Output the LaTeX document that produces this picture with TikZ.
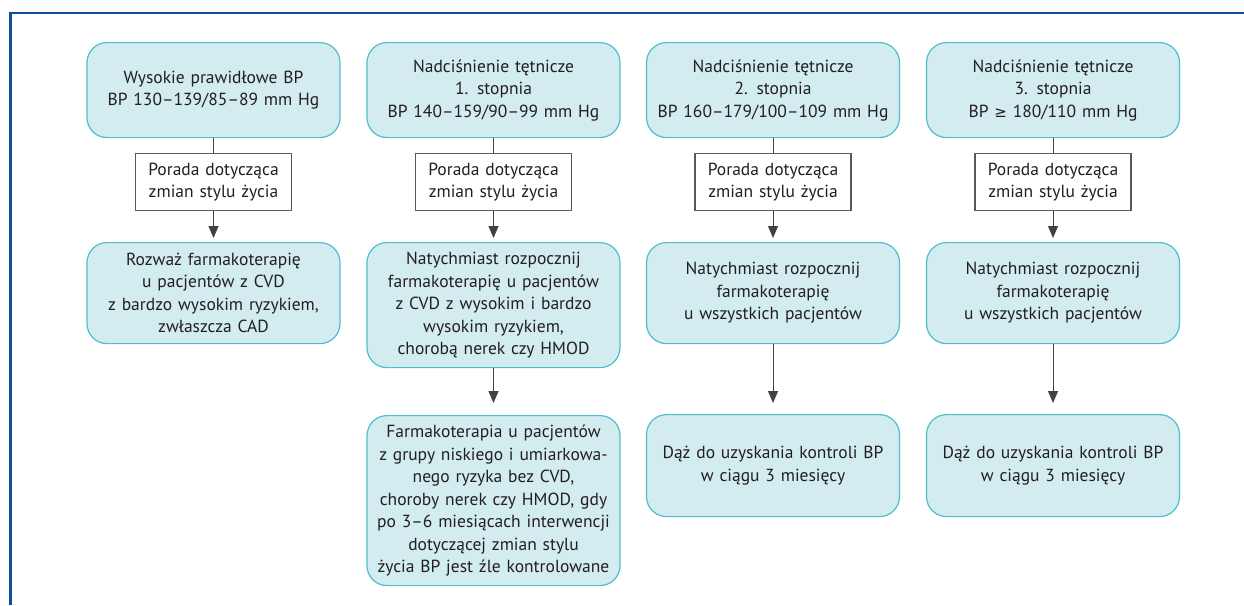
\documentclass[tikz,border=0pt]{standalone}
\usepackage{fontspec}
\setmainfont{PT Sans}
\newfontfamily\symfont{DejaVu Sans}
\usetikzlibrary{arrows.meta}
\definecolor{framecol}{RGB}{12,80,156}
\definecolor{boxfill}{RGB}{210,236,239}
\definecolor{boxline}{RGB}{78,190,206}
\definecolor{txt}{RGB}{35,31,32}
\definecolor{advline}{RGB}{90,90,90}
\begin{document}
\begin{tikzpicture}[x=1pt,y=-1pt,
  every node/.style={font=\fontsize{17.5}{22.5}\selectfont, text=txt, align=center, inner sep=0pt},
  stagebox/.style={draw=boxline, fill=boxfill, line width=1.2pt, rounded corners=20pt,
     minimum width=253pt, text width=245pt, anchor=north},
  advbox/.style={draw=advline, fill=white, line width=1.1pt, minimum width=156pt,
     minimum height=57pt, text width=150pt, anchor=north},
  conn/.style={draw=txt!85, line width=1pt},
  arr/.style={conn, -{Triangle[length=12pt,width=10pt]}}
]
\useasboundingbox (0,0) rectangle (1244,605);
\fill[white] (0,0) rectangle (1244,605);
% frame
\draw[framecol, line width=2.4pt] (10.5,605) -- (10.5,13) -- (1244,13);

% column 1
\node[stagebox, minimum height=95pt] (t1) at (213.5,42) {Wysokie prawidłowe BP\\BP 130–139/85–89 mm Hg};
\node[advbox] (a1) at (213.5,153) {Porada dotycząca\\zmian stylu życia};
\node[stagebox, minimum height=101pt] (m1) at (213.5,242) {Rozważ farmakoterapię\\u pacjentów z CVD\\z bardzo wysokim ryzykiem,\\zwłaszcza CAD};

% column 2
\node[stagebox, minimum height=95pt] (t2) at (493.5,42) {Nadciśnienie tętnicze\\1. stopnia\\BP 140–159/90–99 mm Hg};
\node[advbox] (a2) at (493.5,153) {Porada dotycząca\\zmian stylu życia};
\node[stagebox, minimum height=125pt] (m2) at (493.5,242) {Natychmiast rozpocznij\\farmakoterapię u pacjentów\\z CVD z wysokim i bardzo\\wysokim ryzykiem,\\chorobą nerek czy HMOD};
\node[stagebox, minimum height=170pt] (b2) at (493.5,415) {Farmakoterapia u pacjentów\\z grupy niskiego i umiarkowa-\\nego ryzyka bez CVD,\\choroby nerek czy HMOD, gdy\\po 3–6 miesiącach interwencji\\dotyczącej zmian stylu\\życia BP jest źle kontrolowane};

% column 3
\node[stagebox, minimum height=95pt] (t3) at (773,42) {Nadciśnienie tętnicze\\2. stopnia\\BP 160–179/100–109 mm Hg};
\node[advbox] (a3) at (773,153) {Porada dotycząca\\zmian stylu życia};
\node[stagebox, minimum height=101pt] (m3) at (773,242) {Natychmiast rozpocznij\\farmakoterapię\\u wszystkich pacjentów};
\node[stagebox, minimum height=102pt] (b3) at (773,414) {Dąż do uzyskania kontroli BP\\w ciągu 3 miesięcy};

% column 4
\node[stagebox, minimum height=95pt] (t4) at (1053,42) {Nadciśnienie tętnicze\\3. stopnia\\BP {\symfont\fontsize{15}{22.5}\selectfont ≥} 180/110 mm Hg};
\node[advbox] (a4) at (1053,153) {Porada dotycząca\\zmian stylu życia};
\node[stagebox, minimum height=101pt] (m4) at (1053,242) {Natychmiast rozpocznij\\farmakoterapię\\u wszystkich pacjentów};
\node[stagebox, minimum height=102pt] (b4) at (1053,414) {Dąż do uzyskania kontroli BP\\w ciągu 3 miesięcy};

% connectors
\foreach \i in {1,2,3,4} {
  \draw[conn] (t\i.south) -- (a\i.north);
  \draw[arr, shorten >=4pt] (a\i.south) -- (m\i.north);
}
\draw[arr, shorten >=12pt] (m2.south) -- (b2.north);
\draw[arr, shorten >=11pt] (m3.south) -- (b3.north);
\draw[arr, shorten >=11pt] (m4.south) -- (b4.north);
\end{tikzpicture}
\end{document}
